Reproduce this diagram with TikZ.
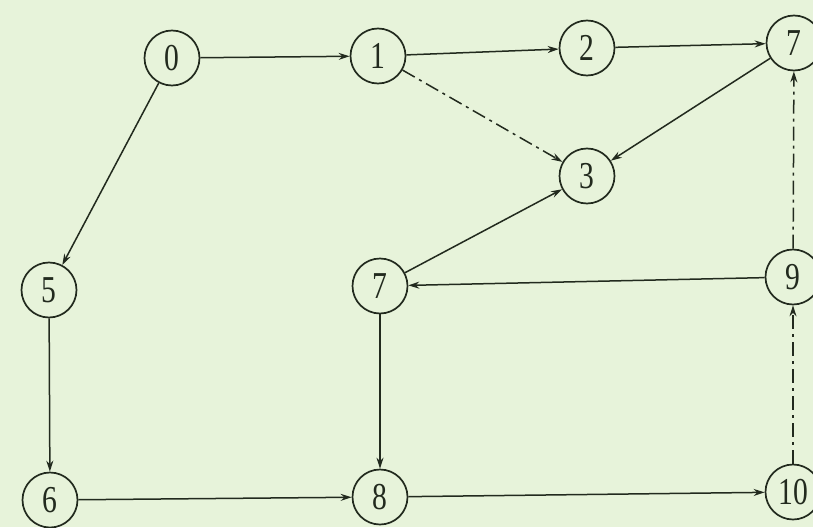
\documentclass[tikz,border=0pt]{standalone}
\usepackage{fontspec}
\setmainfont{Liberation Serif}
\usetikzlibrary{arrows.meta}
\definecolor{bg}{HTML}{E7F3DA}
\definecolor{ink}{HTML}{222A1E}
\tikzset{
  ev/.style={circle,draw=ink,line width=1.7pt,minimum size=55pt,inner sep=0pt,
    font=\fontsize{38}{38}\selectfont,text=ink},
  act/.style={draw=ink,line width=1.5pt,-{Stealth[length=11pt,width=7pt]}},
  dumm/.style={act,dash pattern=on 14pt off 5pt on 3pt off 5pt}
}
\begin{document}
\begin{tikzpicture}[x=1pt,y=-1pt]
\fill[bg] (0,0) rectangle (813,527);
\useasboundingbox (0,0) rectangle (813,527);
\node[ev] (n0) at (172,58) {\scalebox{0.78}[1]{0}};
\node[ev] (n1) at (378,56) {\scalebox{0.78}[1]{1}};
\node[ev] (n2) at (587,48) {\scalebox{0.78}[1]{2}};
\node[ev] (n7a) at (794,43) {\scalebox{0.78}[1]{7}};
\node[ev] (n3) at (587,176) {\scalebox{0.78}[1]{3}};
\node[ev] (n5) at (49,290) {\scalebox{0.78}[1]{5}};
\node[ev] (n7b) at (380,286) {\scalebox{0.78}[1]{7}};
\node[ev] (n9) at (793,277) {\scalebox{0.78}[1]{9}};
\node[ev] (n6) at (50,500) {\scalebox{0.78}[1]{6}};
\node[ev] (n8) at (380,497) {\scalebox{0.78}[1]{8}};
\node[ev] (n10) at (793,492) {\scalebox{0.78}[1]{10}};
\draw[act] (n0) -- (n1);
\draw[act] (n1) -- (n2);
\draw[act] (n2) -- (n7a);
\draw[dumm] (n1) -- (n3);
\draw[act] (n7a) -- (n3);
\draw[act] (n0) -- (n5);
\draw[act] (n5) -- (n6);
\draw[act] (n6) -- (n8);
\draw[act] (n7b) -- (n3);
\draw[act] (n9) -- (n7b);
\draw[act] (n7b) -- (n8);
\draw[act] (n8) -- (n10);
\draw[dumm] (n10) -- (n9);
\draw[dumm] (n9) -- (n7a);
\end{tikzpicture}
\end{document}
